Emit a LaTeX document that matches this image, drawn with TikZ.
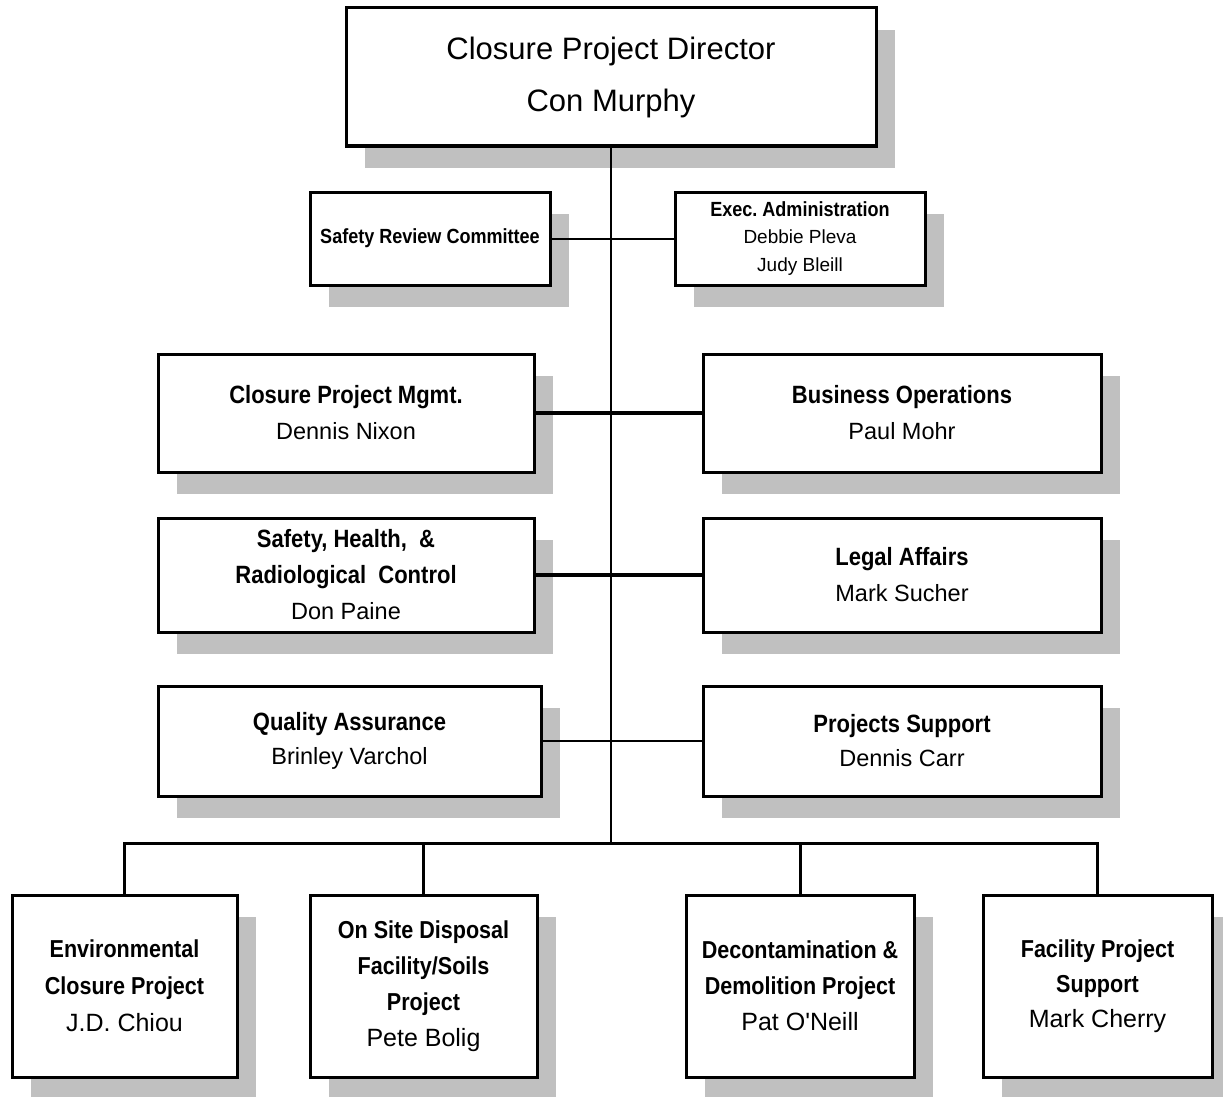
\documentclass[tikz,border=0pt]{standalone}
\usepackage{fontspec}
\setmainfont{Liberation Sans}[BoldFeatures={FakeStretch=0.88}]
\usetikzlibrary{shadows}
\definecolor{shadowgray}{HTML}{C0C0C0}
\newcommand{\fs}[2]{\fontsize{#1}{#2}\selectfont}
\frenchspacing
\begin{document}
\begin{tikzpicture}[x=1pt,y=-1pt,
  box/.style={draw=black, line width=3pt, fill=white, inner sep=0pt, align=center,
    drop shadow={shadow xshift=19pt, shadow yshift=-22pt, fill=shadowgray, opacity=1}},
  thinline/.style={line width=2pt},
  thickline/.style={line width=3.5pt},
  busline/.style={line width=3pt}]
\useasboundingbox (0,0) rectangle (1223,1097);
\fill[white] (0,0) rectangle (1223,1097);

\node[box, minimum width=530pt, minimum height=138pt, font=\fs{31}{52}] (dir) at (611,77)
  {Closure Project Director\\Con Murphy};

\node[box, minimum width=240pt, minimum height=93pt, font=\fs{20.5}{27.5}] (src) at (430,238.5)
  {\textbf{Safety Review Committee}};
\node[box, minimum width=250pt, minimum height=93pt, font=\fs{19}{27.5}] (exec) at (800,238.5)
  {{\fs{20.5}{27.5}\textbf{Exec. Administration}}\\Debbie Pleva\\Judy Bleill};

\node[box, minimum width=376pt, minimum height=118pt, font=\fs{23.5}{36}] (cpm) at (346,413)
  {{\fs{25}{36}\textbf{Closure Project Mgmt.}}\\Dennis Nixon};
\node[box, minimum width=398pt, minimum height=118pt, font=\fs{23.5}{36}] (bo) at (902,413)
  {{\fs{25}{36}\textbf{Business Operations}}\\Paul Mohr};

\node[box, minimum width=376pt, minimum height=114pt, font=\fs{23.5}{36}] (sh) at (346,575)
  {{\fs{25}{36}\textbf{Safety, Health,~~\&}}\\{\fs{25}{36}\textbf{Radiological~~Control}}\\Don Paine};
\node[box, minimum width=398pt, minimum height=114pt, font=\fs{23.5}{36}] (la) at (902,575)
  {{\fs{25}{36}\textbf{Legal Affairs}}\\Mark Sucher};

\node[box, minimum width=383pt, minimum height=110pt, font=\fs{23.5}{34}] (qa) at (349.5,741)
  {{\fs{25}{34}\textbf{Quality Assurance}}\\Brinley Varchol};
\node[box, minimum width=398pt, minimum height=110pt, font=\fs{23.5}{34}] (ps) at (902,741)
  {{\fs{25}{34}\textbf{Projects Support}}\\Dennis Carr};

\node[box, minimum width=225pt, minimum height=182pt, font=\fs{25}{37}] (env) at (124.5,986)
  {{\fs{24.5}{37}\textbf{Environmental}}\\{\fs{24.5}{37}\textbf{Closure Project}}\\J.D. Chiou};
\node[box, minimum width=227pt, minimum height=182pt, font=\fs{25}{36}] (osd) at (423.5,986)
  {{\fs{24.5}{36}\textbf{On Site Disposal}}\\{\fs{24.5}{36}\textbf{Facility/Soils}}\\{\fs{24.5}{36}\textbf{Project}}\\Pete Bolig};
\node[box, minimum width=228pt, minimum height=182pt, font=\fs{25}{36}] (dd) at (800,986)
  {{\fs{24.5}{36}\textbf{Decontamination \&}}\\{\fs{24.5}{36}\textbf{Demolition Project}}\\Pat O\textquotesingle Neill};
\node[box, minimum width=229pt, minimum height=182pt, font=\fs{25}{35}] (fps) at (1097.5,986)
  {{\fs{24.5}{35}\textbf{Facility Project}}\\{\fs{24.5}{35}\textbf{Support}}\\Mark Cherry};

\coordinate (bus) at (611,843);

% trunk
\draw[thinline] (dir.south) -- (dir.south |- bus);
% side connectors
\draw[thinline] (src.east) -- (exec.west);
\draw[thickline] (cpm.east) -- (bo.west);
\draw[thickline] (sh.east) -- (la.west);
\draw[thinline] (qa.east) -- (ps.west);
% bus
\draw[busline] (env.north) -- (env.north |- bus) -- (fps.north |- bus) -- (fps.north);
\draw[busline] (osd.north) -- (osd.north |- bus);
\draw[busline] (dd.north) -- (dd.north |- bus);
\end{tikzpicture}
\end{document}
